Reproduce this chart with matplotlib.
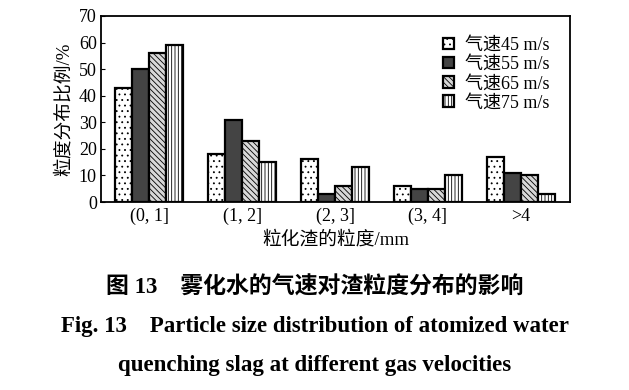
import numpy as np
import matplotlib
matplotlib.use('Agg')
import matplotlib.pyplot as plt

plt.rcParams['font.family'] = ['Liberation Serif', 'Noto Sans CJK SC']
plt.rcParams['hatch.linewidth'] = 0.6

# data
categories = ['(0, 1]', '(1, 2]', '(2, 3]', '(3, 4]', '>4']
v45 = [43, 18, 16, 6, 17]
v55 = [50, 31, 3, 5, 11]
v65 = [56, 23, 6, 5, 10]
v75 = [59, 15, 13, 10, 3]
labels = ['气速45 m/s', '气速55 m/s', '气速65 m/s', '气速75 m/s']

fig = plt.figure(figsize=(6.29, 3.9), dpi=100)
ax = fig.add_axes([0.1606, 0.482, 0.7456, 0.477])

x = np.arange(len(categories))
w = 0.183
series = [v45, v55, v65, v75]
faces = ['white', '#444444', '#d8d8d8', 'white']
hatches = ['...', None, '\\\\\\\\\\\\', '|||||']
for i, (vals, fc, h, lab) in enumerate(zip(series, faces, hatches, labels)):
    ax.bar(x + (i - 1.5) * w, vals, w, color=fc, edgecolor='black',
           linewidth=1.6, hatch=h, label=lab)

ax.set_xlim(-0.52, 4.53)
ax.set_ylim(0, 70)
ax.set_yticks(range(0, 71, 10))
ax.set_xticks(x)
ax.set_xticklabels(categories)
ax.tick_params(axis='y', direction='in', length=3, labelsize=13, pad=3)
ax.tick_params(axis='x', length=0, labelsize=13, pad=4)
for s in ax.spines.values():
    s.set_linewidth(1.3)

ax.set_ylabel('粒度分布比例/%', fontsize=13.5, labelpad=4)
ax.set_xlabel('粒化渣的粒度/mm', fontsize=13.5, labelpad=4)

leg = ax.legend(loc='upper right', frameon=False, fontsize=13,
                handlelength=0.6, handleheight=0.6, handletextpad=0.6,
                labelspacing=0.12, borderaxespad=0.5, bbox_to_anchor=(0.99, 0.975))

fig.text(0.5, 0.262, '图 13　雾化水的气速对渣粒度分布的影响', ha='center', va='center',
         fontsize=16.5, fontweight='bold')
fig.text(0.5, 0.162, 'Fig. 13    Particle size distribution of atomized water',
         ha='center', va='center', fontsize=16.5, fontweight='bold')
fig.text(0.5, 0.064, 'quenching slag at different gas velocities',
         ha='center', va='center', fontsize=16.5, fontweight='bold')

fig.savefig('out.png', dpi=100)
